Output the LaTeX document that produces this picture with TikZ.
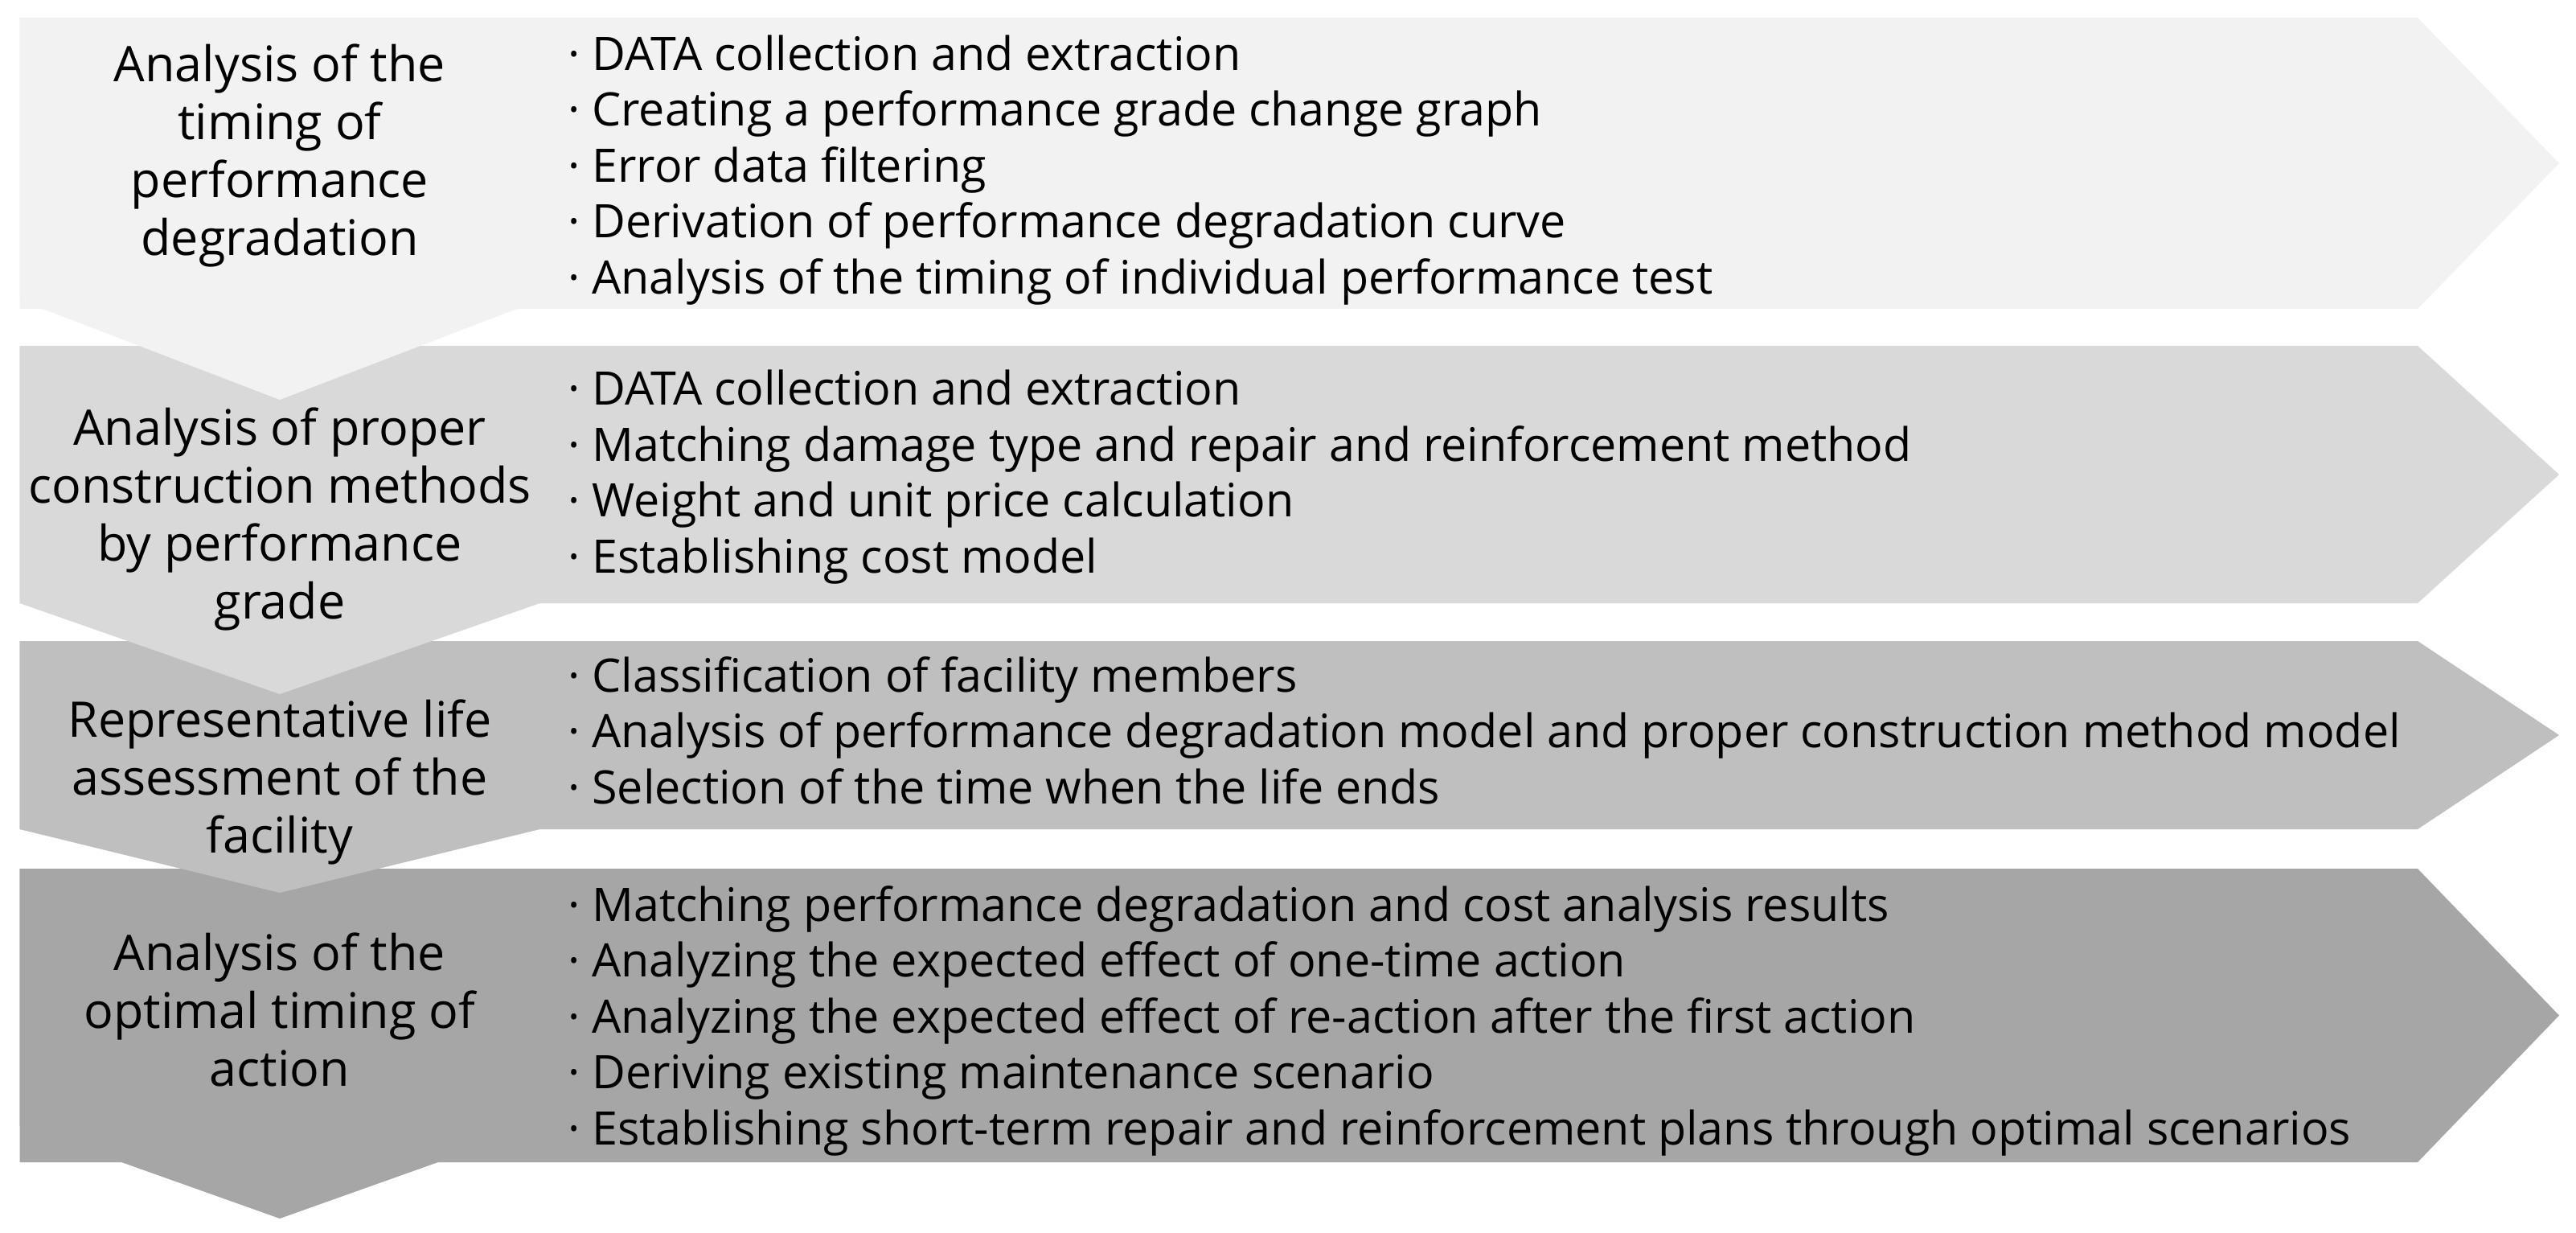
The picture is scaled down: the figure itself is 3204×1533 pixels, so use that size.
\documentclass[tikz,border=0pt]{standalone}
\usepackage{fontspec}
\setmainfont{Open Sans}
\definecolor{gA}{HTML}{F2F2F2}
\definecolor{gB}{HTML}{D9D9D9}
\definecolor{gC}{HTML}{BFBFBF}
\definecolor{gD}{HTML}{A6A6A6}
\tikzset{
  lefttxt/.style={font=\fontsize{61}{72}\selectfont, align=center, anchor=base, inner sep=0pt},
  righttxt/.style={font=\fontsize{57.4}{69.5}\selectfont, align=left, anchor=base west, inner sep=0pt},
}
% band: top, bottom ; chevron: side bottom, tip
\newcommand{\myrow}[5]{%
  \fill[#1] (24.5,#2) -- (3007,#2) -- (3183,{(#2+#3)/2}) -- (3007,#3) -- (24.5,#3) -- cycle;
  \fill[#1] (24.5,#2) -- (671.5,#2) -- (671.5,#4) -- (348,#5) -- (24.5,#4) -- cycle;
}
\begin{document}
\begin{tikzpicture}[x=1pt,y=-1pt]
\fill[white] (0,0) rectangle (3204,1533);
\useasboundingbox (0,0) rectangle (3204,1533);
\myrow{gD}{1080}{1445}{1400}{1515}
\myrow{gC}{797}{1031}{1031}{1110}
\myrow{gB}{430}{750}{750}{863}
\myrow{gA}{22}{384}{373}{497}

% anchors are at the baseline of the last line
\node[lefttxt] (l1) at (348,317) {Analysis of the\\timing of\\performance\\degradation};
\node[lefttxt] (l2) at (348,769) {Analysis of proper\\construction methods\\by performance\\grade};
\node[lefttxt] (l3) at (348,1060) {Representative life\\assessment of the\\facility};
\node[lefttxt] (l4) at (348,1350) {Analysis of the\\optimal timing of\\action};

\node[righttxt] (r1) at (706,365) {· DATA collection and extraction\\· Creating a performance grade change graph\\· Error data filtering\\· Derivation of performance degradation curve\\· Analysis of the timing of individual performance test};
\node[righttxt] (r2) at (706,712) {· DATA collection and extraction\\· Matching damage type and repair and reinforcement method\\· Weight and unit price calculation\\· Establishing cost model};
\node[righttxt] (r3) at (706,999) {· Classification of facility members\\· Analysis of performance degradation model and proper construction method model\\· Selection of the time when the life ends};
\node[righttxt] (r4) at (706,1423) {· Matching performance degradation and cost analysis results\\· Analyzing the expected effect of one-time action\\· Analyzing the expected effect of re-action after the first action\\· Deriving existing maintenance scenario\\· Establishing short-term repair and reinforcement plans through optimal scenarios};
\end{tikzpicture}
\end{document}
